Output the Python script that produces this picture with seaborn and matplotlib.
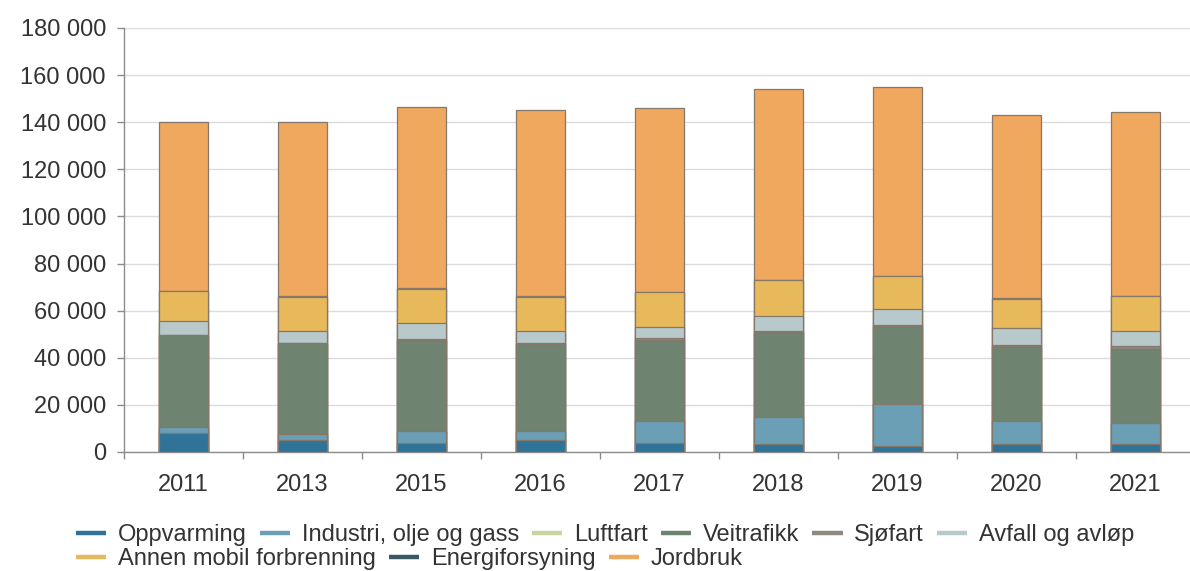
import matplotlib
matplotlib.use("Agg")
import matplotlib.pyplot as plt
import matplotlib.ticker as mticker
from matplotlib.lines import Line2D
import numpy as np
import pandas as pd
import seaborn as sns

years = ["2011", "2013", "2015", "2016", "2017", "2018", "2019", "2020", "2021"]

series_names = ["Oppvarming", "Industri, olje og gass", "Luftfart", "Veitrafikk",
                "Sjøfart", "Avfall og avløp", "Annen mobil forbrenning",
                "Energiforsyning", "Jordbruk"]

oppvarming = [7900, 5100, 3950, 5100, 3950, 3400, 2550, 3400, 3400]
industri = [2800, 2500, 5000, 3900, 9300, 11500, 17800, 9800, 8900]
luftfart = [100, 100, 100, 100, 100, 100, 100, 100, 100]
veitrafikk = [38700, 38500, 38600, 36900, 34300, 35800, 33000, 31500, 31200]
sjofart = [300, 200, 200, 200, 700, 700, 500, 700, 1200]
avfall = [5800, 4900, 7000, 5300, 4900, 6300, 6700, 7000, 6700]
annen_mobil = [12700, 14700, 14400, 14500, 14500, 15200, 13900, 12600, 14600]
energiforsyning = [200, 200, 200, 200, 200, 200, 200, 200, 200]
jordbruk = [71600, 73800, 76900, 79000, 78250, 80800, 80250, 77700, 78200]

colors = ["#2f7399", "#6a9fb6", "#c8d59e", "#6e8470", "#8e8880",
          "#b8c9cc", "#e8b95b", "#3c5865", "#f0a85f"]

all_series = [oppvarming, industri, luftfart, veitrafikk, sjofart, avfall,
              annen_mobil, energiforsyning, jordbruk]

sns.set_theme(style="white")
plt.rcParams["font.family"] = ["Liberation Sans", "DejaVu Sans"]
text_color = "#333333"

fig = plt.figure(figsize=(11.9, 5.71), dpi=100)
ax = fig.add_axes([124 / 1190, 1 - 452 / 571, 1071 / 1190, (452 - 28) / 571])

cum = np.cumsum(np.array(all_series), axis=0)
for i in range(len(all_series) - 1, -1, -1):
    df = pd.DataFrame({"year": years, "value": cum[i]})
    sns.barplot(data=df, x="year", y="value", order=years, color=colors[i],
                saturation=1, width=0.41, edgecolor="#85776a", linewidth=0.9,
                ax=ax, zorder=3)

ax.set_xlim(-0.5, 8.5)
ax.set_ylim(0, 180000)
ax.set_xlabel("")
ax.set_ylabel("")
ax.yaxis.set_major_locator(mticker.MultipleLocator(20000))
ax.yaxis.set_major_formatter(mticker.FuncFormatter(lambda v, p: f"{int(v):,}".replace(",", " ")))
ax.grid(axis="y", color="#dcdcdc", linewidth=1, zorder=0)
ax.set_axisbelow(True)

for s in ["top", "right"]:
    ax.spines[s].set_visible(False)
for s in ["left", "bottom"]:
    ax.spines[s].set_color("#8c8c8c")
    ax.spines[s].set_linewidth(1)

ax.tick_params(axis="y", length=5, width=1, color="#8c8c8c", pad=8,
               labelsize=17, labelcolor=text_color, left=True)
ax.tick_params(axis="x", which="major", length=0, pad=16, labelsize=17,
               labelcolor=text_color)
ax.set_xticks(np.arange(-0.5, 9.0, 1.0), minor=True)
ax.tick_params(axis="x", which="minor", length=5, width=1, color="#8c8c8c",
               bottom=True)

def handles_for(idx):
    return [Line2D([0], [0], color=colors[k], lw=3.2, solid_capstyle="butt") for k in idx]

row1 = [0, 1, 2, 3, 4, 5]
row2 = [6, 7, 8]
common = dict(frameon=False, fontsize=17, handlelength=1.28, handletextpad=0.5,
              columnspacing=0.55, borderpad=0, borderaxespad=0, labelcolor=text_color)
leg1 = fig.legend(handles_for(row1), [series_names[k] for k in row1], ncol=len(row1),
                  loc="center left", bbox_to_anchor=(76 / 1190, 1 - 535 / 571), **common)
leg2 = fig.legend(handles_for(row2), [series_names[k] for k in row2], ncol=len(row2),
                  loc="center left", bbox_to_anchor=(76 / 1190, 1 - 559 / 571), **common)

fig.savefig("out.png", dpi=100)
